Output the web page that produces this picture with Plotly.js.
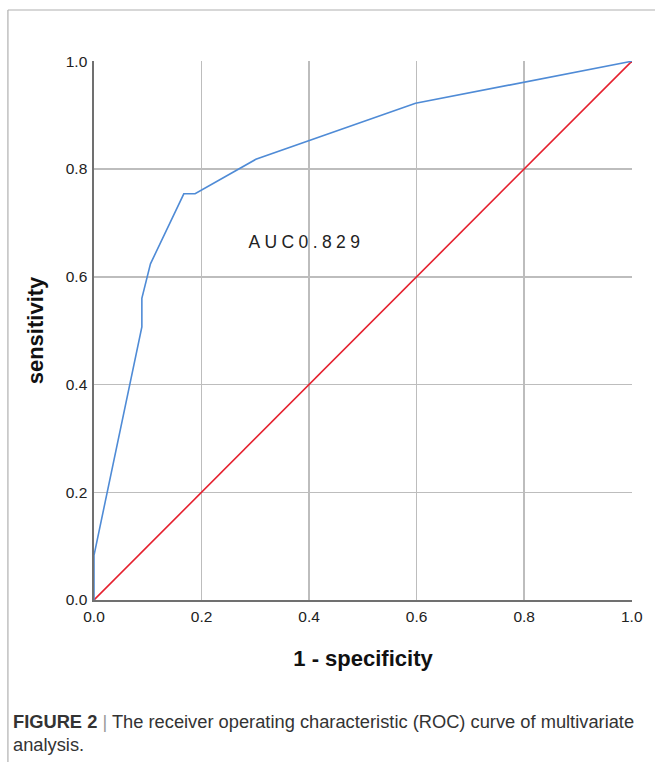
<!DOCTYPE html>
<html>
<head>
<meta charset="utf-8">
<script src="https://cdn.plot.ly/plotly-3.0.1.min.js"></script>
<style>
  html, body { margin: 0; padding: 0; background: #fff; }
  #chart { width: 655px; height: 762px; }
</style>
</head>
<body>
<div id="chart"></div>
<script>
// ROC curve (1 - specificity, sensitivity)
const rocFpr = [0, 0, 0.089, 0.089, 0.105, 0.167, 0.188, 0.301, 0.598, 1.0];
const rocTpr = [0, 0.083, 0.507, 0.560, 0.624, 0.754, 0.754, 0.818, 0.922, 1.0];
// Reference line
const refX = [0, 1];
const refY = [0, 1];
const tickVals = [0, 0.2, 0.4, 0.6, 0.8, 1.0];
const tickText = ['0.0', '0.2', '0.4', '0.6', '0.8', '1.0'];
const aucLabel = 'AUC0.829';
const xTitle = '1 - specificity';
const yTitle = 'sensitivity';
const captionLine1 = '<b>FIGURE 2</b> <span style="color:#999">|</span> The receiver operating characteristic (ROC) curve of multivariate';
const captionLine2 = 'analysis.';

const FONT = 'Liberation Sans, Arial, Helvetica, sans-serif';

const traces = [
  {
    x: refX, y: refY, type: 'scatter', mode: 'lines',
    line: { color: '#e5202e', width: 1.6 },
    hoverinfo: 'skip', showlegend: false
  },
  {
    x: rocFpr, y: rocTpr, type: 'scatter', mode: 'lines',
    line: { color: '#4f8bd6', width: 1.6 },
    hoverinfo: 'skip', showlegend: false
  }
];

const axisCommon = {
  range: [0, 1.0005],
  tickvals: tickVals,
  ticktext: tickText,
  showgrid: true,
  gridcolor: '#bdbdbd',
  gridwidth: 1.5,
  zeroline: false,
  showline: true,
  linecolor: '#707070',
  linewidth: 1.6,
  ticks: '',
  tickfont: { family: FONT, size: 15.5, color: '#222' },
  fixedrange: true
};

const layout = {
  width: 655,
  height: 762,
  margin: { l: 94, r: 23, t: 61, b: 162 },
  paper_bgcolor: '#ffffff',
  plot_bgcolor: '#ffffff',
  showlegend: false,
  xaxis: Object.assign({}, axisCommon, {
    ticklabelstandoff: 2,
    title: { text: xTitle, font: { family: FONT, size: 22, color: '#111', weight: 'bold' }, standoff: 26 }
  }),
  yaxis: Object.assign({}, axisCommon, {
    ticklabelstandoff: 2,
    title: { text: yTitle, font: { family: FONT, size: 22, color: '#111', weight: 'bold' }, standoff: 16 }
  }),
  shapes: [
    { type: 'line', xref: 'paper', yref: 'paper', x0: -0.16, x1: 1.05, y0: 1.0946, y1: 1.0946,
      line: { color: '#b0b0b0', width: 1.2 } },
    { type: 'line', xref: 'paper', yref: 'paper', x0: -0.16, x1: -0.16, y0: 1.0946, y1: -0.31,
      line: { color: '#b0b0b0', width: 1.2 } }
  ],
  annotations: [
    { x: 0.395, y: 0.664, xref: 'x', yref: 'y', text: aucLabel, showarrow: false,
      font: { family: FONT, size: 17.5, color: '#222' }, xanchor: 'center', yanchor: 'middle' },
    { x: -0.1543, y: -0.2245, xref: 'paper', yref: 'paper', text: captionLine1, showarrow: false,
      font: { family: FONT, size: 18.3, color: '#333' }, xanchor: 'left', yanchor: 'middle', align: 'left' },
    { x: -0.1543, y: -0.269, xref: 'paper', yref: 'paper', text: captionLine2, showarrow: false,
      font: { family: FONT, size: 18.3, color: '#333' }, xanchor: 'left', yanchor: 'middle', align: 'left' }
  ]
};

Plotly.newPlot('chart', traces, layout, { displayModeBar: false, staticPlot: true }).then(function () {
  document.querySelectorAll('.annotation-text').forEach(function (t) {
    if (t.textContent === aucLabel) {
      t.style.letterSpacing = '4.4px';
    }
  });
});
</script>
</body>
</html>
